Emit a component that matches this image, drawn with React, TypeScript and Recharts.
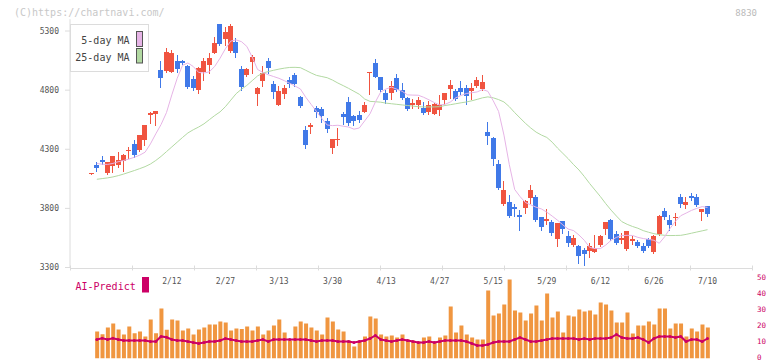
import { Bar, ComposedChart, Line, XAxis, YAxis } from "recharts";

// OHLC per session (yen)
const OPEN = [
  4090, 4164, 4207, 4097, 4156, 4164, 4198, 4283, 4342, 4291, 4376, 4588, 4596, 4969, 4961, 4955, 5046, 5046, 5003, 4893,
  4802, 4950, 5006, 5111, 5359, 5231, 5130, 5207, 4978, 4927, 5037, 4766, 4876, 5046, 4851, 4673, 4766, 4885, 4927, 4743,
  4461, 4489, 4647, 4639, 4537, 4308, 4376, 4596, 4698, 4580, 4588, 4613, 4948, 5029, 4910, 4775, 4777, 4902, 4800, 4732,
  4675, 4675, 4650, 4619, 4602, 4633, 4718, 4811, 4791, 4817, 4817, 4791, 4834, 4808, 4444, 4393, 4173, 3834, 3851, 3808,
  3741, 3800, 3885, 3893, 3724, 3690, 3681, 3537, 3690, 3563, 3486, 3486, 3444, 3444, 3436, 3486, 3622, 3698, 3580, 3529,
  3453, 3520, 3512, 3486, 3537, 3427, 3580, 3774, 3698, 3715, 3893, 3825, 3902, 3893, 3766, 3817,
];
const HIGH = [
  4098, 4190, 4241, 4195, 4241, 4275, 4258, 4317, 4376, 4420, 4505, 4613, 4625, 5048, 5156, 5139, 5097, 5054, 5012, 4919,
  4997, 5069, 5111, 5252, 5359, 5334, 5359, 5238, 5003, 4986, 5099, 4828, 5003, 5071, 4876, 4834, 4842, 4910, 4944, 4750,
  4495, 4520, 4664, 4656, 4563, 4385, 4478, 4613, 4741, 4588, 4622, 4698, 4955, 5063, 4913, 4803, 4876, 4935, 4859, 4738,
  4726, 4743, 4698, 4707, 4692, 4758, 4775, 4885, 4811, 4879, 4842, 4859, 4913, 4927, 4529, 4402, 4207, 4029, 3910, 3834,
  3783, 3868, 3995, 3910, 3726, 3791, 3698, 3675, 3695, 3605, 3571, 3490, 3461, 3503, 3571, 3571, 3685, 3707, 3605, 3588,
  3608, 3563, 3529, 3503, 3546, 3571, 3741, 3800, 3741, 3757, 3919, 3893, 3927, 3919, 3795, 3820,
];
const LOW = [
  4088, 4116, 4173, 4088, 4105, 4147, 4113, 4224, 4232, 4283, 4334, 4520, 4503, 4828, 4953, 4953, 4953, 5020, 4814, 4800,
  4780, 4885, 4941, 5111, 5181, 5181, 5122, 5082, 4800, 4919, 4941, 4673, 4834, 4941, 4732, 4673, 4732, 4825, 4834, 4655,
  4308, 4436, 4571, 4529, 4444, 4266, 4334, 4512, 4503, 4503, 4529, 4613, 4766, 4910, 4791, 4690, 4726, 4790, 4725, 4630,
  4650, 4650, 4600, 4596, 4596, 4588, 4687, 4732, 4720, 4766, 4687, 4724, 4830, 4805, 4342, 4164, 3965, 3830, 3730, 3732,
  3613, 3757, 3842, 3690, 3613, 3664, 3571, 3478, 3596, 3486, 3480, 3342, 3325, 3387, 3430, 3478, 3580, 3529, 3500, 3503,
  3450, 3495, 3475, 3427, 3475, 3425, 3575, 3707, 3613, 3656, 3808, 3800, 3868, 3820, 3698, 3732,
];
const CLOSE = [
  4096, 4139, 4190, 4190, 4241, 4207, 4249, 4292, 4249, 4418, 4503, 4605, 4622, 4899, 5125, 5116, 4975, 5026, 4823, 4819,
  4984, 5043, 5069, 5196, 5190, 5291, 5342, 5111, 4828, 4978, 5080, 4817, 4944, 4986, 4783, 4791, 4817, 4851, 4851, 4664,
  4334, 4503, 4613, 4580, 4469, 4385, 4385, 4571, 4520, 4537, 4546, 4673, 4953, 4910, 4800, 4718, 4834, 4797, 4732, 4641,
  4692, 4715, 4607, 4675, 4684, 4675, 4775, 4842, 4726, 4783, 4752, 4817, 4885, 4868, 4410, 4215, 3969, 3952, 3732, 3791,
  3724, 3859, 3952, 3698, 3639, 3707, 3588, 3673, 3622, 3503, 3546, 3402, 3410, 3486, 3469, 3563, 3681, 3537, 3503, 3546,
  3605, 3537, 3478, 3444, 3478, 3563, 3732, 3724, 3656, 3724, 3834, 3851, 3885, 3825, 3791, 3749,
];
const MA5 = [
  null, 4180, 4173, 4172, 4180, 4195, 4205, 4217, 4232, 4250, 4275, 4345, 4430, 4510, 4610, 4760, 4900, 5010, 5030, 5000,
  4950, 4945, 4955, 5000, 5070, 5150, 5215, 5225, 5210, 5170, 5080, 4975, 4950, 4930, 4915, 4900, 4880, 4858, 4835, 4810,
  4740, 4680, 4620, 4560, 4505, 4500, 4503, 4495, 4488, 4470, 4480, 4540, 4600, 4700, 4785, 4810, 4825, 4808, 4790, 4760,
  4758, 4757, 4740, 4718, 4695, 4675, 4680, 4700, 4735, 4755, 4772, 4778, 4785, 4805, 4790, 4710, 4620, 4420, 4170, 3960,
  3900, 3850, 3830, 3810, 3795, 3768, 3735, 3700, 3660, 3625, 3612, 3575, 3530, 3470, 3460, 3460, 3490, 3530, 3555, 3570,
  3572, 3571, 3555, 3545, 3538, 3530, 3505, 3560, 3630, 3690, 3738, 3760, 3783, 3800, 3815, 3808,
];
const MA25 = [
  null, 4046, 4052, 4058, 4066, 4077, 4090, 4105, 4120, 4136, 4153, 4175, 4205, 4240, 4280, 4320, 4360, 4400, 4438, 4465,
  4488, 4515, 4550, 4585, 4616, 4660, 4715, 4770, 4808, 4840, 4880, 4920, 4945, 4957, 4968, 4978, 4986, 4992, 4993, 4990,
  4968, 4945, 4925, 4915, 4905, 4885, 4860, 4838, 4815, 4790, 4765, 4725, 4705, 4702, 4698, 4690, 4685, 4680, 4675, 4670,
  4665, 4660, 4658, 4658, 4658, 4660, 4670, 4677, 4685, 4693, 4700, 4710, 4722, 4735, 4743, 4735, 4720, 4700, 4660, 4610,
  4565, 4520, 4480, 4445, 4420, 4400, 4360, 4310, 4265, 4220, 4170, 4125, 4070, 4010, 3955, 3900, 3840, 3785, 3735, 3688,
  3665, 3647, 3632, 3612, 3598, 3586, 3578, 3572, 3570, 3571, 3572, 3580, 3590, 3600, 3610, 3620,
];
const VOLUME = [
  null, 16.9, 15.2, 19.4, 21.9, 18.1, 15, 20, 15.8, 16.9, 13.8, 24.4, 15.8, 31.3, 17.9, 24.4, 23.8, 17.5, 18.8, 15,
  18.1, 19.4, 21.3, 21.3, 23.1, 22.5, 17.5, 18.8, 18.5, 20, 17.5, 20, 15, 17.5, 20.6, 24.4, 16.3, 11.3, 20, 23.1,
  21.9, 19.4, 17.5, 15, 25.6, 23.1, 18.1, 16.9, 11.3, 7.5, 11.3, 13.8, 26.3, 25, 15, 13.8, 14.4, 13.1, 15, 11.9,
  11.3, 10.6, 13.1, 13.8, 10.6, 13.1, 14.4, 32.5, 16.3, 20.6, 15, 13.1, 11.9, 11.9, 42.5, 26.9, 28.1, 33.8, 49.4, 30,
  28.8, 23.8, 28.1, 33.1, 23.8, 40.6, 25.6, 29.4, 16.3, 26.9, 26.3, 30.6, 29.4, 30, 27.5, 35, 33.8, 30, 22.5, 22.5,
  28.8, 15.6, 20.6, 20.6, 23.1, 21.3, 31.3, 31.3, 18.8, 21.9, 21.9, 13.8, 18.8, 16.9, 21.3, 19.4,
];
const AI_PREDICT = [
  null, 11.9, 12.7, 11.9, 12.7, 11.9, 11.3, 11.3, 11.3, 11.3, 11.3, 10.6, 10.6, 13.8, 13.3, 11.9, 11.3, 11.3, 10.6, 10,
  9.4, 10, 10.6, 10.6, 11.3, 12.5, 11.9, 11.3, 10.6, 10.6, 10.6, 11.3, 11.9, 10.6, 11.9, 11.9, 11.9, 11.9, 11.9, 11.9,
  11.9, 11.3, 10.6, 11.3, 11.3, 11.3, 10.6, 10.6, 10.6, 10, 10.6, 11.3, 12.5, 14.4, 11.9, 11.3, 10.6, 11.3, 11.9, 11.3,
  10.6, 10, 10, 10.6, 10, 10.6, 11.3, 11.3, 11.3, 11.3, 10.6, 9.4, 8.1, 8.1, 8.8, 10, 10.6, 10.6, 10.6, 11.9,
  13.1, 11.9, 10.6, 10.6, 11.3, 11.9, 12.5, 12.5, 12.5, 12.5, 12.5, 11.9, 12.5, 11.9, 12.5, 12.5, 12.5, 13.1, 15, 13.1,
  12.5, 12.5, 13.1, 11.9, 10, 12.5, 13.8, 13.8, 13.8, 13.1, 13.8, 10.6, 11.9, 11.9, 10.6, 12.5,
];
const TICK_INDEX = [15, 25, 35, 45, 55, 65, 75, 85, 95, 105, 115];
const TICK_LABELS = ["2/12", "2/27", "3/13", "3/30", "4/13", "4/27", "5/15", "5/29", "6/12", "6/26", "7/10"];
const PRICE_TICKS = [3300, 3800, 4300, 4800, 5300];
const VOL_TICKS = [0, 10, 20, 30, 40, 50];

const RED = "#f05440";
const BLUE = "#4079e8";
const PINK = "#e6b4e6";
const GREEN = "#b2d9a2";
const MAGENTA = "#cc0066";
const ORANGE = "#f09640";
const AXIS = "#dcdcdc";
const FONT = "DejaVu Sans Mono";

const rows = OPEN.map((o, i) => ({
  i,
  o,
  h: HIGH[i],
  l: LOW[i],
  c: CLOSE[i],
  ma5: MA5[i],
  ma25: MA25[i],
  vol: VOLUME[i],
  ai: AI_PREDICT[i],
}));

// plot spans x 70..752; session i sits at 91.5 + i * STEP
const STEP = 5.357;
const PAD = { left: 18.8, right: 41.8 };
const GRID_DOMAIN = [(70 - 91.5) / STEP, (752 - 91.5) / STEP];
const GRID_TICKS = Array.from({ length: 12 }, (_, k) => (70 + 62 * k - 91.5) / STEP);

const Candle = (props: any) => {
  const { x, y, width, height, payload } = props;
  if (x == null || y == null) return <g />;
  const { o, h, l, c } = payload;
  const k = h > l ? height / (h - l) : 0;
  const yo = y + (h - o) * k;
  const yc = y + (h - c) * k;
  const color = c >= o ? RED : BLUE;
  const left = Math.round(x + width / 2 - 2.5);
  const cx = left + 2.5;
  const top = Math.round(Math.min(yo, yc));
  const bh = Math.max(Math.round(Math.abs(yo - yc)), 1);
  return (
    <g>
      <line x1={cx} x2={cx} y1={Math.round(y)} y2={Math.round(y + height) + 1} stroke={color} strokeWidth={1} />
      <rect x={left} y={top} width={5} height={bh} fill={color} />
    </g>
  );
};

// short marks that cross the time axis line
const GridTick = (props: any) => (
  <line x1={Math.round(props.x) + 0.5} x2={Math.round(props.x) + 0.5} y1={props.y - 3} y2={props.y + 2} stroke={AXIS} />
);

export default function App() {
  return (
    <div style={{ position: "absolute", left: 0, top: 0, width: 772, height: 361, background: "#fff", fontFamily: FONT }}>
      <div style={{ position: "absolute", left: 0, top: 0 }}>
        <ComposedChart width={772} height={290} data={rows} margin={{ top: 19.2, right: 20, bottom: 20.5, left: 0 }}>
          <XAxis
            xAxisId="grid"
            dataKey="i"
            type="number"
            domain={GRID_DOMAIN}
            allowDataOverflow
            ticks={GRID_TICKS}
            interval={0}
            height={1}
            tickSize={0}
            tickMargin={0}
            tickLine={false}
            axisLine={{ stroke: AXIS }}
            tick={GridTick}
          />
          <XAxis
            dataKey="i"
            type="category"
            padding={PAD}
            ticks={TICK_INDEX}
            interval={0}
            tickFormatter={(v: number) => TICK_LABELS[TICK_INDEX.indexOf(v)] ?? ""}
            axisLine={false}
            tickLine={false}
            height={1}
            tickSize={0}
            tickMargin={11}
            tick={{ fontSize: 8, fill: "#555", fontFamily: FONT }}
          />
          <YAxis
            domain={[3300, 5400]}
            ticks={PRICE_TICKS}
            interval={0}
            allowDataOverflow
            width={70}
            tickSize={5}
            tickMargin={6}
            axisLine={{ stroke: AXIS }}
            tickLine={{ stroke: AXIS }}
            tick={{ fontSize: 8, fill: "#555", fontFamily: FONT }}
          />
          <Line dataKey="ma25" stroke={GREEN} strokeWidth={1} dot={false} isAnimationActive={false} />
          <Line dataKey="ma5" stroke={PINK} strokeWidth={1} dot={false} isAnimationActive={false} />
          <Bar dataKey={(d: any) => [d.l, d.h]} barSize={5} shape={Candle} isAnimationActive={false} />
        </ComposedChart>
      </div>
      <div style={{ position: "absolute", left: 0, top: 268 }}>
        <ComposedChart width={772} height={93} data={rows} margin={{ top: 10.5, right: 0, bottom: 2.5, left: 70 }}>
          <XAxis dataKey="i" type="category" padding={PAD} hide />
          <YAxis
            orientation="right"
            domain={[0, 50]}
            ticks={VOL_TICKS}
            interval={0}
            allowDataOverflow
            width={20}
            axisLine={false}
            tickLine={false}
            tickSize={0}
            tickMargin={5}
            tick={{ fontSize: 7.5, fill: MAGENTA, fontFamily: FONT, textAnchor: "start", dy: -1.2 }}
          />
          <Bar dataKey="vol" fill={ORANGE} barSize={4} isAnimationActive={false} />
          <Line
            dataKey="ai"
            stroke={MAGENTA}
            strokeWidth={2}
            dot={{ r: 1.5, fill: MAGENTA, stroke: "none" }}
            isAnimationActive={false}
          />
        </ComposedChart>
      </div>
      <svg width={772} height={361} style={{ position: "absolute", left: 0, top: 0, pointerEvents: "none" }}>
        <text x={14} y={15.5} fontSize={10} fill="#c8c8c8" fontFamily={FONT}>
          (C)https://chartnavi.com/
        </text>
        <text x={757} y={15.5} fontSize={9} fill="#bbb" textAnchor="end" fontFamily={FONT}>
          8830
        </text>
        <rect x={70.5} y={24.5} width={78} height={47} fill="#fff" stroke={AXIS} />
        <text x={129.5} y={43.5} fontSize={10} fill="#444" textAnchor="end" fontFamily={FONT}>
          5-day MA
        </text>
        <rect x={136.5} y={31.5} width={6} height={15} fill={PINK} stroke="#555" />
        <text x={129.5} y={60.5} fontSize={10} fill="#444" textAnchor="end" fontFamily={FONT}>
          25-day MA
        </text>
        <rect x={136.5} y={48.5} width={6} height={14.5} fill={GREEN} stroke="#555" />
        <text x={75.5} y={290} fontSize={10} fill={MAGENTA} fontFamily={FONT}>
          AI-Predict
        </text>
        <rect x={142} y={277} width={7} height={15.5} fill={MAGENTA} />
      </svg>
    </div>
  );
}
